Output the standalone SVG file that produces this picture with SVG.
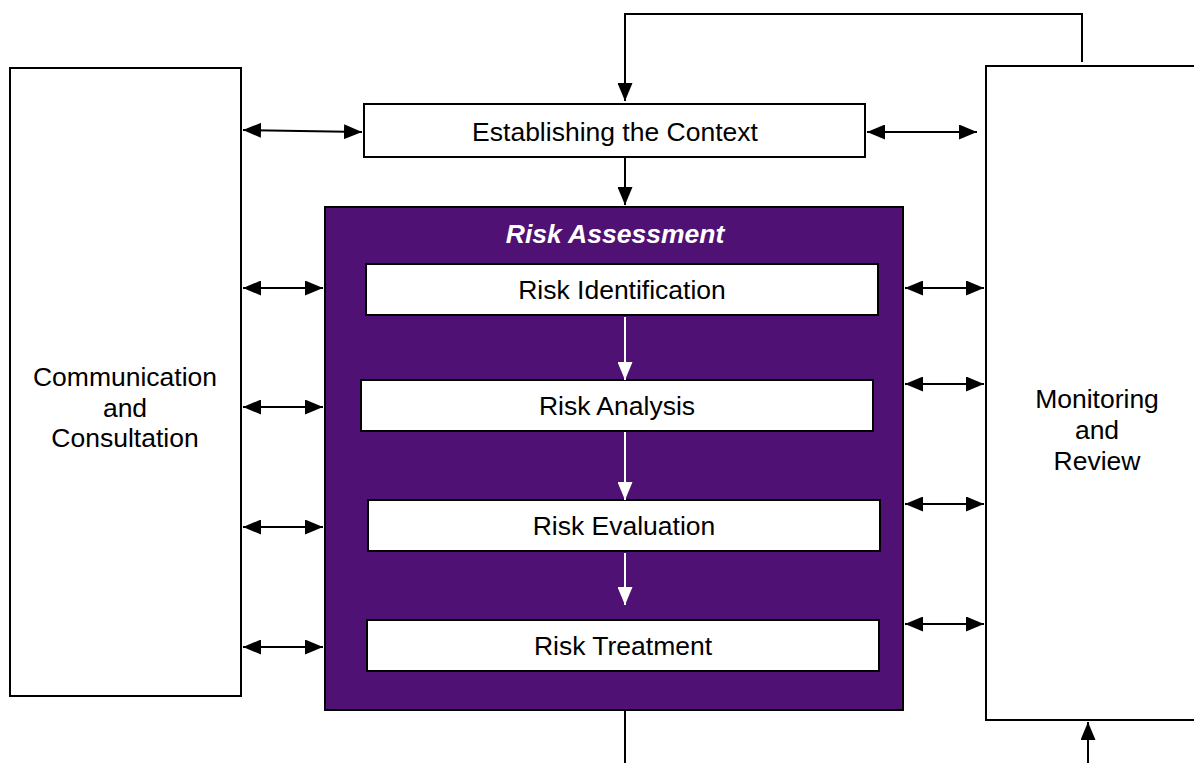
<svg xmlns="http://www.w3.org/2000/svg" width="1194" height="763" viewBox="0 0 1194 763">
<defs>
<marker id="ah" viewBox="0 0 18 15" refX="18" refY="7.5" markerWidth="18" markerHeight="15" markerUnits="userSpaceOnUse" orient="auto-start-reverse"><path d="M0,0 L18,7.5 L0,15 Z" fill="#000"/></marker>
<marker id="wh" viewBox="0 0 18 15" refX="18" refY="7.5" markerWidth="18" markerHeight="15" markerUnits="userSpaceOnUse" orient="auto"><path d="M0,0 L18,7.5 L0,15 Z" fill="#fff"/></marker>
</defs>
<style>
.box{fill:#fff;stroke:#000;stroke-width:2}
.t{font-family:"Liberation Sans",Arial,sans-serif;font-size:26.5px;fill:#000;text-anchor:middle}
.c{fill:none;stroke:#000;stroke-width:2}
.d{fill:none;stroke:#000;stroke-width:2;marker-start:url(#ah);marker-end:url(#ah)}
.w{fill:none;stroke:#fff;stroke-width:2;marker-end:url(#wh)}
</style>
<g id="comm"><rect class="box" x="10" y="68" width="231" height="628"/><text class="t" x="125" y="386">Communication</text><text class="t" x="125" y="417">and</text><text class="t" x="125" y="447">Consultation</text></g>
<g id="monitor"><rect class="box" x="986" y="66" width="220" height="654"/><text class="t" x="1097" y="408">Monitoring</text><text class="t" x="1097" y="439">and</text><text class="t" x="1097" y="470">Review</text></g>
<g id="context"><rect class="box" x="364" y="104" width="501" height="53"/><text class="t" x="615" y="141">Establishing the Context</text></g>
<g id="assessment"><rect x="325" y="207" width="578" height="503" fill="#4F1173" stroke="#000" stroke-width="2"/><text class="t" x="615" y="243" style="fill:#fff;font-weight:bold;font-style:italic">Risk Assessment</text></g>
<g id="ident"><rect class="box" x="366" y="264" width="512" height="51"/><text class="t" x="622" y="299">Risk Identification</text></g>
<g id="analysis"><rect class="box" x="361" y="380" width="512" height="51"/><text class="t" x="617" y="415">Risk Analysis</text></g>
<g id="evaluation"><rect class="box" x="368" y="500" width="512" height="51"/><text class="t" x="624" y="535">Risk Evaluation</text></g>
<g id="treatment"><rect class="box" x="367" y="620" width="512" height="51"/><text class="t" x="623" y="655">Risk Treatment</text></g>
<g id="connectors">
<path class="c" d="M1082,62 V14 H625 V101" marker-end="url(#ah)"/>
<path class="c" d="M625,157 V205" marker-end="url(#ah)"/>
<path class="c" d="M625,711 V763"/>
<path class="c" d="M1088,763 V722" marker-end="url(#ah)"/>
<path class="d" d="M243,130 L362,132"/>
<path class="d" d="M867,132 H977"/>
<path class="d" d="M243,288 H323"/>
<path class="d" d="M243,407 H323"/>
<path class="d" d="M243,527 H323"/>
<path class="d" d="M243,647 H323"/>
<path class="d" d="M905,288 H984"/>
<path class="d" d="M905,384 H984"/>
<path class="d" d="M905,504 H984"/>
<path class="d" d="M905,624 H984"/>
<path class="w" d="M625,317 V380"/>
<path class="w" d="M625,432 V500"/>
<path class="w" d="M625,553 V605"/>
</g>
</svg>
